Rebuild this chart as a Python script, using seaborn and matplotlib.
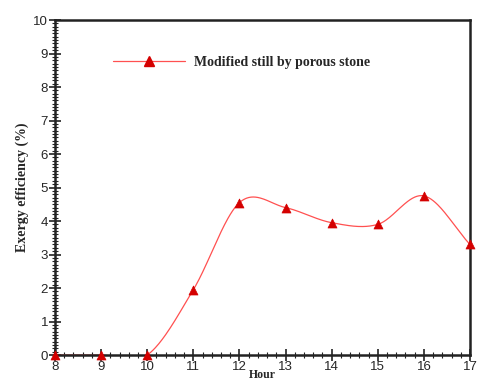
import numpy as np
import pandas as pd
import matplotlib
matplotlib.use("Agg")
import matplotlib.pyplot as plt
import seaborn as sns
from matplotlib.ticker import MultipleLocator

hours = [8, 9, 10, 11, 12, 13, 14, 15, 16, 17]
efficiency = [0.0, 0.0, 0.0, 1.95, 4.55, 4.40, 3.95, 3.90, 4.75, 3.30]
series_name = "Modified still by porous stone"


def catmull_rom(x, y, n=40):
    """Smooth curve through the points (cardinal spline, uniform spacing)."""
    x = np.asarray(x, float)
    y = np.asarray(y, float)
    m = np.zeros_like(y)
    m[1:-1] = (y[2:] - y[:-2]) / (x[2:] - x[:-2])
    m[0] = (y[1] - y[0]) / (x[1] - x[0])
    m[-1] = (y[-1] - y[-2]) / (x[-1] - x[-2])
    xs, ys = [], []
    for i in range(len(x) - 1):
        h = x[i + 1] - x[i]
        t = np.linspace(0, 1, n, endpoint=False)
        h00 = 2 * t**3 - 3 * t**2 + 1
        h10 = t**3 - 2 * t**2 + t
        h01 = -2 * t**3 + 3 * t**2
        h11 = t**3 - t**2
        xs.append(x[i] + t * h)
        ys.append(h00 * y[i] + h10 * h * m[i] + h01 * y[i + 1] + h11 * h * m[i + 1])
    xs.append([x[-1]])
    ys.append([y[-1]])
    return np.concatenate(xs), np.concatenate(ys)


sns.set_theme(style="white")
plt.rcParams["font.family"] = ["Liberation Sans", "DejaVu Sans"]

points = pd.DataFrame({"Hour": hours, "Efficiency": efficiency})
cx, cy = catmull_rom(hours, efficiency)
curve = pd.DataFrame({"Hour": cx, "Efficiency": cy})

fig = plt.figure(figsize=(4.78, 3.81), dpi=100)
ax = fig.add_axes([0.1151, 0.0682, 0.8682, 0.8793])

line_color = "#ff5050"
marker_color = "#d40000"

sns.lineplot(data=curve, x="Hour", y="Efficiency", ax=ax, color=line_color,
             linewidth=0.9, sort=False, legend=False)
sns.scatterplot(data=points, x="Hour", y="Efficiency", ax=ax, marker="^",
                s=42, color=marker_color, edgecolor=marker_color, linewidth=0.5,
                zorder=5, clip_on=False, legend=False)

ax.set_xlim(8, 17)
ax.set_ylim(0, 10)
ax.xaxis.set_major_locator(MultipleLocator(1))
ax.xaxis.set_minor_locator(MultipleLocator(0.2))
ax.yaxis.set_major_locator(MultipleLocator(1))
ax.yaxis.set_minor_locator(MultipleLocator(0.1))
ax.tick_params(axis="both", which="major", direction="inout", length=8,
               width=1.2, color="#222222", labelsize=9.5,
               bottom=True, left=True, top=False, right=False)
ax.tick_params(axis="both", which="minor", direction="inout", length=4,
               width=0.8, color="#222222",
               bottom=True, left=True, top=False, right=False)
ax.tick_params(axis="x", pad=0)
ax.tick_params(axis="y", pad=1)

for side in ["left", "bottom", "top", "right"]:
    ax.spines[side].set_color("#222222")
    ax.spines[side].set_linewidth(1.8)

serif = ["Liberation Serif", "DejaVu Serif"]
ax.set_xlabel("Hour", family=serif, fontweight="bold", fontsize=8.5)
ax.xaxis.set_label_coords(0.5, -0.041)
ax.xaxis.label.set_verticalalignment("top")
ax.set_ylabel("Exergy efficiency (%)", family=serif, fontweight="bold",
              fontsize=10, labelpad=3)

handle = matplotlib.lines.Line2D([], [], color=line_color, linewidth=0.9,
                                 marker="^", markersize=7,
                                 markerfacecolor=marker_color,
                                 markeredgecolor=marker_color)
ax.legend([handle], [series_name], loc="upper left",
          bbox_to_anchor=(0.11, 0.93), frameon=False, handlelength=5.2,
          handletextpad=0.6, prop={"family": serif, "weight": "bold", "size": 10})

fig.savefig("out.png", dpi=100)
